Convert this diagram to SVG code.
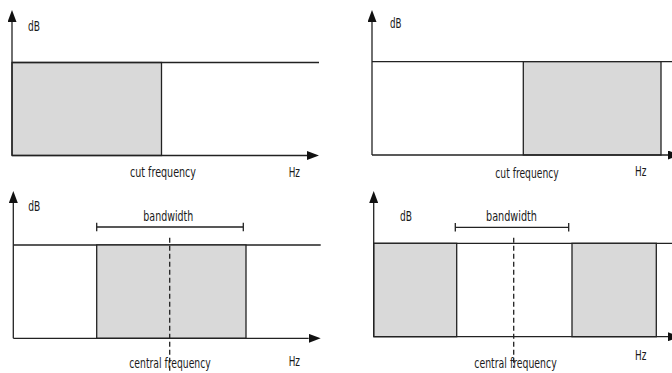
<svg xmlns="http://www.w3.org/2000/svg" width="672" height="373" viewBox="0 0 672 373">
<style>
.ln{stroke:#222;stroke-width:1.3;fill:none}
.band{fill:#d9d9d9;stroke:#222;stroke-width:1.3}
.dash{stroke:#222;stroke-width:1.3;stroke-dasharray:5 3;fill:none}
.t{font-family:"DejaVu Sans Condensed","Liberation Sans",sans-serif;font-size:13.5px;fill:#1a1a1a}
</style>
<defs>
<marker id="ah" viewBox="0 0 12 9" refX="0" refY="4.5" markerWidth="12" markerHeight="9" markerUnits="userSpaceOnUse" orient="auto">
<path d="M0,0 L12,4.5 L0,9 Z" fill="#111"/>
</marker>
</defs>
<rect width="672" height="373" fill="#fff"/>

<g id="lowpass">
<rect class="band" x="12" y="62.5" width="149.5" height="93"/>
<line class="ln" x1="12" y1="62.5" x2="319" y2="62.5"/>
<text class="t" x="28" y="30.5" textLength="12" lengthAdjust="spacingAndGlyphs">dB</text>
<text class="t" x="130" y="177" textLength="66" lengthAdjust="spacingAndGlyphs">cut frequency</text>
<text class="t" x="288.7" y="177" textLength="11.3" lengthAdjust="spacingAndGlyphs">Hz</text>
</g>

<g id="highpass">
<line class="ln" x1="372" y1="61.7" x2="672" y2="61.7"/>
<rect class="band" x="523.3" y="61.7" width="137.7" height="93.3"/>
<text class="t" x="390" y="28" textLength="11.5" lengthAdjust="spacingAndGlyphs">dB</text>
<text class="t" x="495.3" y="178" textLength="63.4" lengthAdjust="spacingAndGlyphs">cut frequency</text>
<text class="t" x="635" y="175.5" textLength="11.3" lengthAdjust="spacingAndGlyphs">Hz</text>
</g>

<g id="bandpass">
<line class="ln" x1="13.3" y1="245" x2="320.7" y2="245"/>
<rect class="band" x="96.7" y="245" width="149.3" height="93.3"/>
<path class="ln" d="M96.7,227 H243.3 M96.7,222.7 V231.3 M243.3,222.7 V231.3"/>
<text class="t" x="143.3" y="221" textLength="50" lengthAdjust="spacingAndGlyphs">bandwidth</text>
<line class="dash" x1="169.7" y1="237.7" x2="169.7" y2="372.7"/>
<text class="t" x="129.3" y="368" textLength="81.4" lengthAdjust="spacingAndGlyphs">central frequency</text>
<text class="t" x="288.7" y="365.5" textLength="11.3" lengthAdjust="spacingAndGlyphs">Hz</text>
<text class="t" x="28.3" y="211" textLength="12" lengthAdjust="spacingAndGlyphs">dB</text>
</g>

<g id="bandstop">
<line class="ln" x1="373.7" y1="243.3" x2="672" y2="243.3"/>
<rect class="band" x="373.7" y="243.3" width="83" height="93.4"/>
<rect class="band" x="572" y="243.3" width="84.3" height="93.4"/>
<path class="ln" d="M455.3,227.3 H568.7 M455.3,223 V231.6 M568.7,223 V231.6"/>
<text class="t" x="486" y="221" textLength="51" lengthAdjust="spacingAndGlyphs">bandwidth</text>
<line class="dash" x1="513.7" y1="237.7" x2="513.7" y2="367.7"/>
<text class="t" x="474.3" y="367.5" textLength="82.4" lengthAdjust="spacingAndGlyphs">central frequency</text>
<text class="t" x="635" y="359.5" textLength="11.3" lengthAdjust="spacingAndGlyphs">Hz</text>
<text class="t" x="400" y="221" textLength="12" lengthAdjust="spacingAndGlyphs">dB</text>
</g>

<g id="axes">
<line class="ln" x1="12" y1="155.5" x2="12" y2="22" marker-end="url(#ah)"/>
<line class="ln" x1="12" y1="155.5" x2="307" y2="155.5" marker-end="url(#ah)"/>
<line class="ln" x1="372" y1="155" x2="372" y2="22" marker-end="url(#ah)"/>
<line class="ln" x1="372" y1="155" x2="668" y2="155" marker-end="url(#ah)"/>
<line class="ln" x1="13.3" y1="338.3" x2="13.3" y2="203" marker-end="url(#ah)"/>
<line class="ln" x1="13.3" y1="338.3" x2="308.7" y2="338.3" marker-end="url(#ah)"/>
<line class="ln" x1="373.7" y1="336.7" x2="373.7" y2="203" marker-end="url(#ah)"/>
<line class="ln" x1="373.7" y1="336.7" x2="668" y2="336.7" marker-end="url(#ah)"/>
</g>
</svg>
